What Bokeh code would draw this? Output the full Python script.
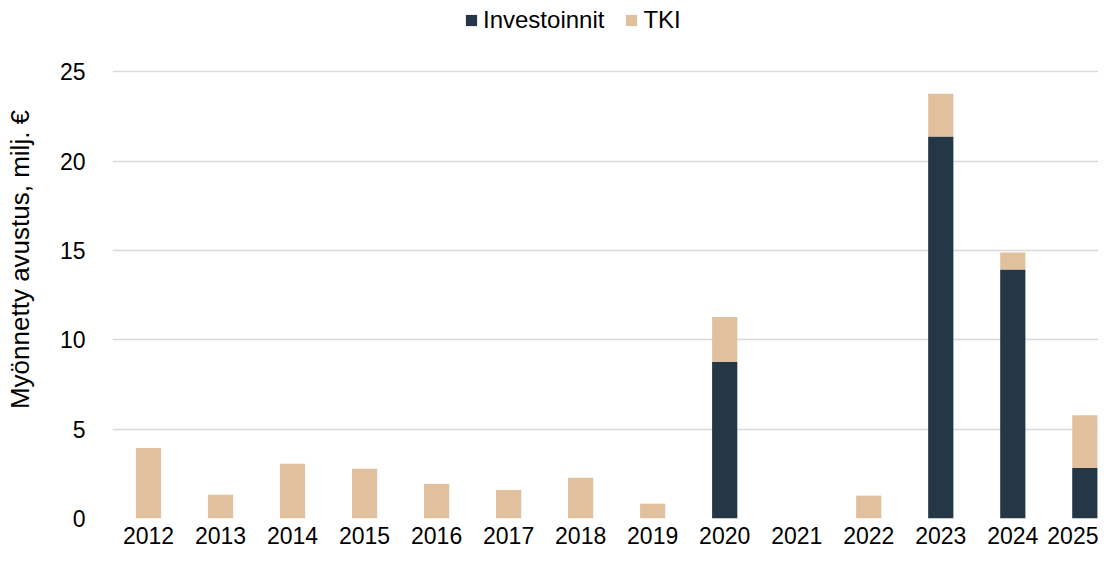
from bokeh.plotting import figure
from bokeh.models import ColumnDataSource, FixedTicker, Range1d, Legend, LegendItem
from bokeh.embed import file_html
from bokeh.resources import INLINE

years = ["2012", "2013", "2014", "2015", "2016", "2017", "2018", "2019",
         "2020", "2021", "2022", "2023", "2024", "2025"]
investoinnit = [0, 0, 0, 0, 0, 0, 0, 0, 8.78, 0, 0, 21.39, 13.94, 2.83]
tki = [3.94, 1.33, 3.06, 2.78, 1.94, 1.6, 2.28, 0.83, 2.5, 0, 1.28, 2.39, 0.95, 2.95]
y_ticks = [0, 5, 10, 15, 20, 25]

DARK = "#253746"
TAN = "#E1C09D"
FONT = "Liberation Sans"

# category slots: one unit per year, bar centred in its slot
xpos = [i + 0.5 for i in range(len(years))]
src = ColumnDataSource(dict(x=xpos, Investoinnit=investoinnit, TKI=tki))

p = figure(x_range=Range1d(0, 13.69), y_range=Range1d(0, 29.0),
           width=1098, height=547, output_backend="svg", toolbar_location=None,
           min_border_left=112, min_border_right=0, min_border_top=0, min_border_bottom=29)

r = p.vbar_stack(["Investoinnit", "TKI"], x="x", width=0.35, source=src,
                 color=[DARK, TAN], line_color=None)

p.outline_line_color = None
p.background_fill_color = "white"
p.border_fill_color = "white"

p.xgrid.grid_line_color = None
p.ygrid.grid_line_color = "#D9D9D9"
p.ygrid.grid_line_width = 1.5
p.ygrid.ticker = FixedTicker(ticks=y_ticks)

p.yaxis.ticker = FixedTicker(ticks=y_ticks)
p.yaxis.axis_line_color = None
p.yaxis.major_tick_line_color = None
p.yaxis.minor_tick_line_color = None
p.yaxis.major_label_standoff = 21
p.yaxis.major_label_text_font = FONT
p.yaxis.major_label_text_font_size = "23px"
p.yaxis.major_label_text_color = "black"
p.yaxis.axis_label = "Myönnetty avustus, milj. €"
p.yaxis.axis_label_text_font = FONT
p.yaxis.axis_label_text_font_size = "26px"
p.yaxis.axis_label_text_font_style = "normal"
p.yaxis.axis_label_text_color = "black"
p.yaxis.axis_label_standoff = 22

p.xaxis.ticker = FixedTicker(ticks=xpos)
p.xaxis.major_label_overrides = {x: y for x, y in zip(xpos, years)}
p.xaxis.axis_line_color = None
p.xaxis.major_tick_line_color = None
p.xaxis.minor_tick_line_color = None
p.xaxis.major_label_standoff = 2
p.xaxis.major_label_text_font = FONT
p.xaxis.major_label_text_font_size = "23px"
p.xaxis.major_label_text_color = "black"

legend = Legend(items=[LegendItem(label="Investoinnit", renderers=[r[0]]),
                       LegendItem(label="TKI", renderers=[r[1]])],
                location=(352, 484), orientation="horizontal")
legend.label_text_font = FONT
legend.label_text_font_size = "24px"
legend.label_text_color = "black"
legend.glyph_width = 14
legend.glyph_height = 14
legend.label_standoff = 5
legend.spacing = 20
legend.padding = 0
legend.margin = 0
legend.border_line_color = None
legend.background_fill_alpha = 0
p.add_layout(legend, "center")

open("out.html", "w").write(file_html(p, INLINE))
